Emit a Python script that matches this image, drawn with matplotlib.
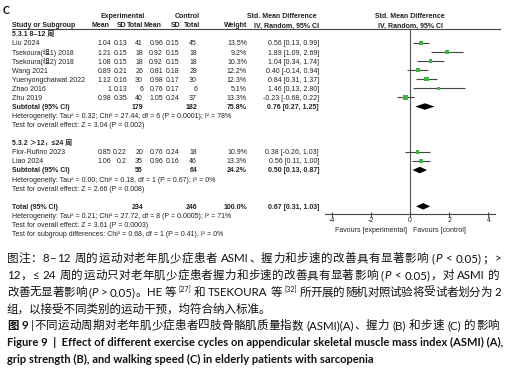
import re
import matplotlib
matplotlib.use("Agg")
import matplotlib.pyplot as plt

W, H = 513, 373

# ---------------- data ----------------
g1_names = ["Liu 2024", "Tsekoura(组1) 2018", "Tsekoura(组2) 2018", "Wang 2021",
            "Yuenyongchaiwat 2022", "Zhao 2016", "Zhu 2019"]
g1_exp_mean = [1.04, 1.21, 1.08, 0.89, 1.12, 1, 0.98]
g1_exp_sd = [0.13, 0.15, 0.15, 0.21, 0.16, 0.13, 0.35]
g1_exp_n = [41, 18, 18, 26, 30, 6, 40]
g1_ctl_mean = [0.96, 0.92, 0.92, 0.81, 0.98, 0.76, 1.05]
g1_ctl_sd = [0.15, 0.15, 0.15, 0.18, 0.17, 0.17, 0.24]
g1_ctl_n = [45, 18, 18, 28, 30, 6, 37]
g1_weight = [13.5, 9.2, 10.3, 12.2, 12.3, 5.1, 13.3]
g1_smd = [0.56, 1.89, 1.04, 0.40, 0.84, 1.46, -0.23]
g1_lo = [0.13, 1.09, 0.34, -0.14, 0.31, 0.13, -0.68]
g1_hi = [0.99, 2.69, 1.74, 0.94, 1.37, 2.80, 0.22]

g2_names = ["Flor-Rufino 2023", "Liao 2024"]
g2_exp_mean = [0.85, 1.06]
g2_exp_sd = [0.22, 0.2]
g2_exp_n = [20, 35]
g2_ctl_mean = [0.76, 0.96]
g2_ctl_sd = [0.24, 0.16]
g2_ctl_n = [18, 46]
g2_weight = [10.9, 13.3]
g2_smd = [0.38, 0.56]
g2_lo = [-0.26, 0.11]
g2_hi = [1.03, 1.00]

sub_labels = ["Subtotal (95% CI)", "Subtotal (95% CI)", "Total (95% CI)"]
sub_exp_n = [179, 55, 234]
sub_ctl_n = [182, 64, 246]
sub_weight = [75.8, 24.2, 100.0]
sub_smd = [0.76, 0.50, 0.67]
sub_lo = [0.27, 0.13, 0.31]
sub_hi = [1.25, 0.87, 1.03]

group_titles = ["5.3.1 8–12 周", "5.3.2 ＞12，≤24 周"]
het_texts = ["Heterogeneity: Tau² = 0.32; Chi² = 27.44, df = 6 (P = 0.0001); I² = 78%",
             "Heterogeneity: Tau² = 0.00; Chi² = 0.18, df = 1 (P = 0.67); I² = 0%",
             "Heterogeneity: Tau² = 0.21; Chi² = 27.72, df = 8 (P = 0.0005); I² = 71%"]
effect_texts = ["Test for overall effect: Z = 3.04 (P = 0.002)",
                "Test for overall effect: Z = 2.66 (P = 0.008)",
                "Test for overall effect: Z = 3.61 (P = 0.0003)"]
subgroup_test = "Test for subgroup differences: Chi² = 0.68, df = 1 (P = 0.41), I² = 0%"
tick_values = [-4, -2, 0, 2, 4]
favours = ["Favours [experimental]", "Favours [control]"]

# ---------------- figure ----------------
fig = plt.figure(figsize=(W / 100, H / 100), dpi=100)
fig.patch.set_facecolor("white")
tax = fig.add_axes([0, 0, 1, 1])
tax.set_xlim(0, W)
tax.set_ylim(H, 0)
tax.axis("off")

FT = ["Liberation Sans", "Noto Sans CJK SC"]
FS = 5.0
TC = "#222222"

ROW0, DROW = 34.0, 9.07


def ry(i):
    return ROW0 + DROW * i


def t(x, yc, s, ha="left", bold=False, size=FS, family=FT):
    tax.text(x, yc + 2.4, s, ha=ha, va="baseline", fontsize=size, color=TC,
             family=family, fontweight="bold" if bold else "normal")


# panel label
tax.text(3, 13.5, "C", ha="left", va="baseline", fontsize=7.6, fontweight="bold",
         family=["Lato", "Liberation Sans"], color="#111111")

# headers
hy1, hy2 = 15.7, 25.0
t(123, hy1, "Experimental", ha="center", bold=True)
t(187, hy1, "Control", ha="center", bold=True)
t(317, hy1, "Std. Mean Difference", ha="right", bold=True)
t(410, hy1, "Std. Mean Difference", ha="center", bold=True)
t(12, hy2, "Study or Subgroup", bold=True)
t(110, hy2, "Mean", ha="right", bold=True)
t(126, hy2, "SD", ha="right", bold=True)
t(143, hy2, "Total", ha="right", bold=True)
t(161, hy2, "Mean", ha="right", bold=True)
t(180, hy2, "SD", ha="right", bold=True)
t(200, hy2, "Total", ha="right", bold=True)
t(247, hy2, "Weight", ha="right", bold=True)
t(319, hy2, "IV, Random, 95% CI", ha="right", bold=True)
t(410, hy2, "IV, Random, 95% CI", ha="center", bold=True)
tax.plot([12, 500], [29, 29], color="#444444", lw=0.8)

COLS = dict(em=111, es=127, en=143, cm=163, cs=179, cn=197, w=247, smd=319)


def fmt_ci(e, lo, hi):
    return f"{e:.2f} [{lo:.2f}, {hi:.2f}]"


def study_rows(start, names, em, es, en, cm, cs, cn, w, e, lo, hi):
    rows = []
    for k in range(len(names)):
        y = ry(start + k)
        rows.append(start + k)
        t(12, y, names[k])
        t(COLS["em"], y, f"{em[k]:g}", ha="right")
        t(COLS["es"], y, f"{es[k]:g}", ha="right")
        t(COLS["en"], y, f"{en[k]}", ha="right")
        t(COLS["cm"], y, f"{cm[k]:g}", ha="right")
        t(COLS["cs"], y, f"{cs[k]:g}", ha="right")
        t(COLS["cn"], y, f"{cn[k]}", ha="right")
        t(COLS["w"], y, f"{w[k]:.1f}%", ha="right")
        t(COLS["smd"], y, fmt_ci(e[k], lo[k], hi[k]), ha="right")
    return rows


def summary_row(r, k):
    y = ry(r)
    t(12, y, sub_labels[k], bold=True)
    t(COLS["en"], y, f"{sub_exp_n[k]}", ha="right", bold=True)
    t(COLS["cn"], y, f"{sub_ctl_n[k]}", ha="right", bold=True)
    t(COLS["w"], y, f"{sub_weight[k]:.1f}%", ha="right", bold=True)
    t(COLS["smd"], y, fmt_ci(sub_smd[k], sub_lo[k], sub_hi[k]), ha="right", bold=True)


t(12, ry(0), group_titles[0], bold=True)
rows1 = study_rows(1, g1_names, g1_exp_mean, g1_exp_sd, g1_exp_n, g1_ctl_mean, g1_ctl_sd,
                   g1_ctl_n, g1_weight, g1_smd, g1_lo, g1_hi)
summary_row(8, 0)
t(12, ry(9), het_texts[0])
t(12, ry(10), effect_texts[0])

t(12, ry(12), group_titles[1], bold=True)
rows2 = study_rows(13, g2_names, g2_exp_mean, g2_exp_sd, g2_exp_n, g2_ctl_mean, g2_ctl_sd,
                   g2_ctl_n, g2_weight, g2_smd, g2_lo, g2_hi)
summary_row(15, 1)
t(12, ry(16), het_texts[1])
t(12, ry(17), effect_texts[1])

summary_row(19, 2)
t(12, ry(20), het_texts[2])
t(12, ry(21), effect_texts[2])
t(12, ry(22), subgroup_test)

# ---------------- forest axes ----------------
PX_ZERO, PX_UNIT = 410.0, 19.6
AX_L, AX_R, AX_T, AX_B = 325.0, 495.0, 29.0, 214.0
fax = fig.add_axes([AX_L / W, (H - AX_B) / H, (AX_R - AX_L) / W, (AX_B - AX_T) / H])
fax.set_xlim((AX_L - PX_ZERO) / PX_UNIT, (AX_R - PX_ZERO) / PX_UNIT)
fax.set_ylim((AX_B - ROW0) / DROW, (AX_T - ROW0) / DROW)
fax.patch.set_alpha(0)
for s in ["top", "left", "right"]:
    fax.spines[s].set_visible(False)
fax.spines["bottom"].set_color("#444444")
fax.spines["bottom"].set_linewidth(0.8)
fax.set_yticks([])
fax.set_xticks(tick_values)
fax.set_xticklabels([str(v) for v in tick_values], fontsize=FS, color=TC, family=FT)
fax.tick_params(axis="x", direction="inout", length=3.6, width=0.8, color="#444444", pad=0.5)
fax.axvline(0, color="#555555", lw=0.8, zorder=1)

all_rows = rows1 + rows2
all_smd = g1_smd + g2_smd
all_lo = g1_lo + g2_lo
all_hi = g1_hi + g2_hi
all_w = g1_weight + g2_weight
fax.hlines(all_rows, all_lo, all_hi, color="#444444", lw=0.8, zorder=2)
sizes = [(4.3 * (w / 13.5) ** 0.5 / 1.389) ** 2 for w in all_w]
fax.scatter(all_smd, all_rows, marker="s", s=sizes, color="#3cb83c", linewidths=0, zorder=3)

for r, e, lo, hi in zip([8, 15, 19], sub_smd, sub_lo, sub_hi):
    fax.fill([lo, e, hi, e], [r, r - 0.36, r, r + 0.36], color="black", lw=0, zorder=3)

t(407, 229.5, favours[0], ha="right")
t(413, 229.5, favours[1], ha="left")

# ---------------- caption ----------------
renderer = fig.canvas.get_renderer()
CF = ["Lato", "Noto Sans CJK SC"]
CS = 8.3
N = dict(family=CF, fontsize=CS)
I = dict(family=CF, fontsize=CS, style="italic")
B = dict(family=CF, fontsize=CS, fontweight="bold")
SUP = dict(family=CF, fontsize=5.2, dy=-4.0)


def width(s, props):
    p = {k: v for k, v in props.items() if k != "dy"}
    tt = tax.text(0, 0, "|" + s + "|", **p)
    w1 = tt.get_window_extent(renderer).width
    tt.set_text("||")
    w2 = tt.get_window_extent(renderer).width
    tt.remove()
    return w1 - w2


def draw_line(runs, x0, yc, right=None):
    base = float(round(yc + 4.2))
    if right is None:
        x = x0
        for s, props in runs:
            p = {k: v for k, v in props.items() if k != "dy"}
            tax.text(x, base + props.get("dy", 0.0), s, ha="left", va="baseline",
                     color="#111111", **p)
            x += width(s, props)
        return
    toks = []
    for s, props in runs:
        for tok in re.findall(r"[\x21-\x7e]+|\s|.", s):
            toks.append((tok, props, width(tok, props)))
    total = sum(w for _, _, w in toks)
    extra = (right - x0 - total) / (len(toks) - 1)
    x = x0
    for tok, props, w in toks:
        p = {k: v for k, v in props.items() if k != "dy"}
        if not tok.isspace():
            tax.text(x, base + props.get("dy", 0.0), tok, ha="left", va="baseline",
                     color="#111111", **p)
        x += w + extra


cap_lines = [
    [("图注：8–12 周的运动对老年肌少症患者 ASMI、握力和步速的改善具有显著影响 (", N), ("P", I),
     (" < 0.05)；>", N)],
    [("12，≤ 24 周的运动只对老年肌少症患者握力和步速的改善具有显著影响 (", N), ("P", I),
     (" < 0.05)，对 ASMI 的", N)],
    [("改善无显著影响 (", N), ("P", I), (" > 0.05)。HE 等 ", N), ("[27]", SUP),
     (" 和 TSEKOURA 等 ", N), ("[32]", SUP), (" 所开展的随机对照试验将受试者划分为 2", N)],
    [("组，以接受不同类别的运动干预，均符合纳入标准。", N)],
    [("图 9 ", B), ("|", N),
     ("不同运动周期对老年肌少症患者四肢骨骼肌质量指数 (ASMI)(A)、握力 (B) 和步速 (C) 的影响", N)],
]
cap_right = [501, 500, 501, None, 499]
CY0, CDY = 258.0, 16.8
for k, (runs, rgt) in enumerate(zip(cap_lines, cap_right)):
    draw_line(runs, 7, CY0 + CDY * k, rgt)

en1 = "Figure 9  |  Effect of different exercise cycles on appendicular skeletal muscle mass index (ASMI) (A),"
en2 = "grip strength (B), and walking speed (C) in elderly patients with sarcopenia"
wnat = width(en1, B)
fs_en = CS * (493.0 / wnat)
BE = dict(family=CF, fontsize=fs_en, fontweight="bold")
draw_line([(en1, BE)], 7, CY0 + CDY * 5, None)
draw_line([(en2, BE)], 7, CY0 + CDY * 6, None)

fig.savefig("out.png", dpi=100, facecolor="white")
